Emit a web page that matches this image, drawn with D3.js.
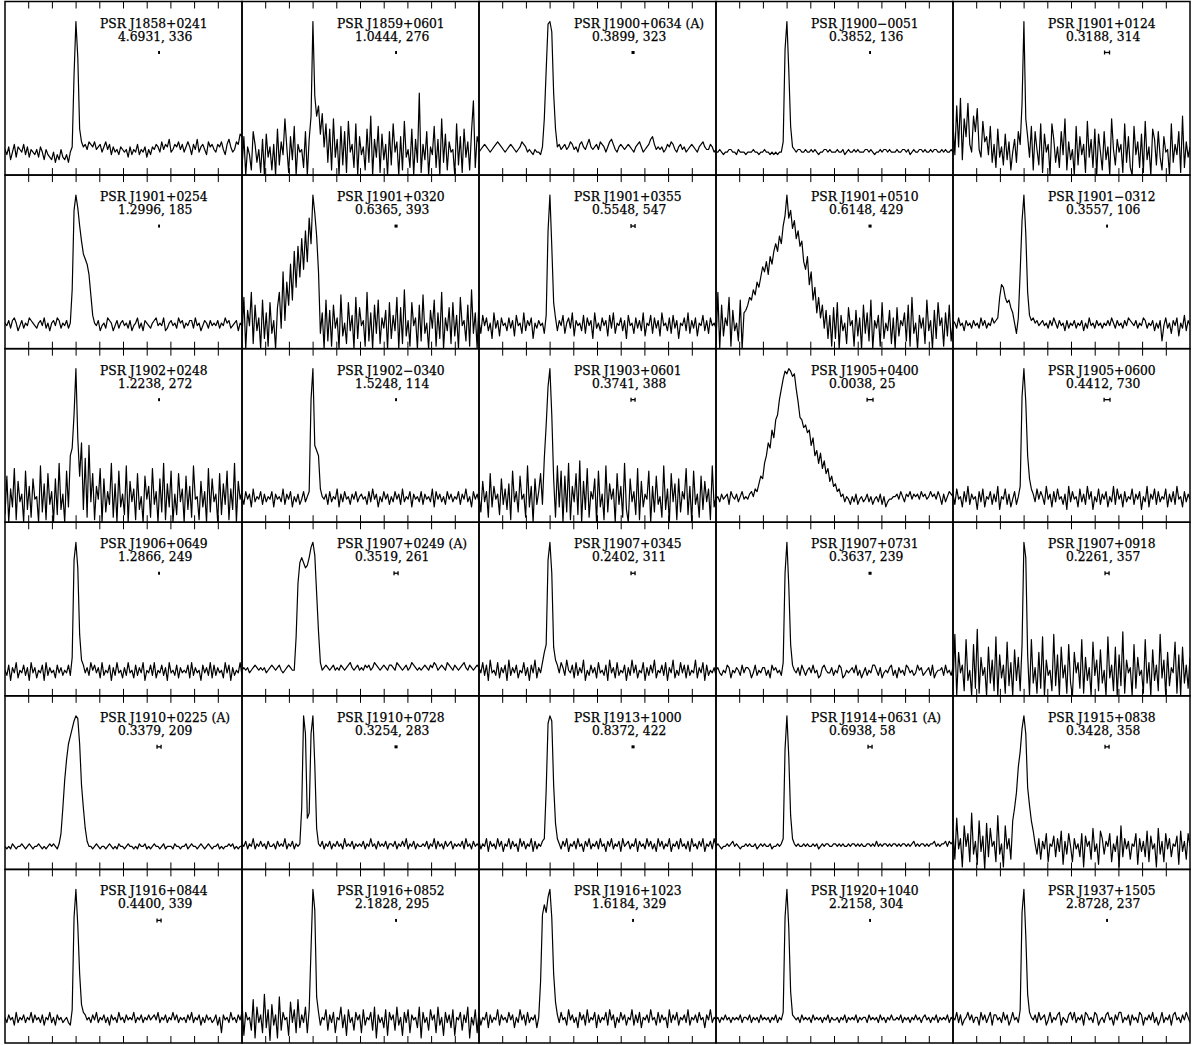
<!DOCTYPE html>
<html lang="en">
<head>
<meta charset="UTF-8">
<title>Pulse profiles</title>
<style>
  html, body { margin: 0; padding: 0; background: #fff; overflow: hidden; }
  svg { display: block; }
  .label { font-family: "DejaVu Serif", serif; font-size: 12.3px; fill: #000; stroke: #000; stroke-width: 0.25px; }
  .frame { fill: none; stroke: #000; stroke-width: 1.5px; }
  .tick { stroke: #000; stroke-width: 1px; }
  .profile { fill: none; stroke: #000; stroke-width: 1.2px; stroke-linejoin: round; }
  .res { stroke: #000; stroke-width: 1.3px; fill: #000; }
</style>
<script src="https://d3js.org/d3.v7.min.js"></script>
</head>
<body>
<svg width="1192" height="1045"></svg>
<script>
var names = [
  "PSR J1858+0241", "PSR J1859+0601", "PSR J1900+0634 (A)", "PSR J1900\u22120051", "PSR J1901+0124",
  "PSR J1901+0254", "PSR J1901+0320", "PSR J1901+0355", "PSR J1901+0510", "PSR J1901\u22120312",
  "PSR J1902+0248", "PSR J1902\u22120340", "PSR J1903+0601", "PSR J1905+0400", "PSR J1905+0600",
  "PSR J1906+0649", "PSR J1907+0249 (A)", "PSR J1907+0345", "PSR J1907+0731", "PSR J1907+0918",
  "PSR J1910+0225 (A)", "PSR J1910+0728", "PSR J1913+1000", "PSR J1914+0631 (A)", "PSR J1915+0838",
  "PSR J1916+0844", "PSR J1916+0852", "PSR J1916+1023", "PSR J1920+1040", "PSR J1937+1505"
];
var periods = [
  4.6931, 1.0444, 0.3899, 0.3852, 0.3188,
  1.2996, 0.6365, 0.5548, 0.6148, 0.3557,
  1.2238, 1.5248, 0.3741, 0.0038, 0.4412,
  1.2866, 0.3519, 0.2402, 0.3637, 0.2261,
  0.3379, 0.3254, 0.8372, 0.6938, 0.3428,
  0.4400, 2.1828, 1.6184, 2.2158, 2.8728
];
var dms = [
  336, 276, 323, 136, 314,
  185, 393, 547, 429, 106,
  272, 114, 388, 25, 730,
  249, 261, 311, 239, 357,
  209, 283, 422, 58, 358,
  339, 295, 329, 304, 237
];
// time resolution, in pulse phase
var resolution = [
  0.008, 0.008, 0.013, 0.008, 0.021,
  0.008, 0.013, 0.017, 0.013, 0.008,
  0.008, 0.008, 0.017, 0.025, 0.025,
  0.008, 0.017, 0.017, 0.013, 0.017,
  0.017, 0.013, 0.013, 0.017, 0.017,
  0.017, 0.008, 0.008, 0.008, 0.008
];
// one character per phase bin, level 0..61 (0-9, a-z, A-Z), peak = Y (60)
var profiles = [
  "a8b69c7ba9c8b7a9 8a7b96a8769586a7 6859bDYKidbcadcb dabc9bdac8b9a8ba 9a7b8a9c8a9b7a8b acb9dacbe9acbdac 9bdb8cae9bca8dbc a9cbda8ceb9adcgf",
  "3f0b82hc5a1e0g7b 2c0i4d8mb1f6j0c9 a3h0enYvnrgobk5i 2m7e0j4h1l9c3k0f 8b2i5n0e7j1g6c0h 4k9d0f2l7a3i0e5w 1c6h0b8j3e0m5g2d 9a0k4f1i7d2ht3fc",
  "9abcba9abcdcba9a bcba9abdcb9a98a9 98bmFXYUwibcabca bdcab9cdbacebabc adcb9bdeca9bcbab cba9bcdb9abcefca bab9acbdca9bcab9 abcba9bcdbaacb9a",
  "99a9899aa998a999 8999a99899a99898 9899dNYFjba9aa99 a99a9a9899aa9a99 9a99a89a99a9a999 aa9a9899a9aa9a99 9a99aa9a89a99aa9 a99a9aa99a9a99a9",
  "k8rbu6mfsc9nhqa7 ldf8j5c3i7b4g6d2 9e5hcsYmf7j2ha4k 1g9c0ke5b3h8m2d6 a0j4f8c1l7e3i0g9 2h6b0ma4e9c1k5f3 0j8d3g1l6b0ie4h7 2f9a0k5c8h1n3d7b",

  "a9b8bca79b8a9cba 98ab9c8a7ab9cb8a 9b8anSYTMGBzxtld a9b79a8cba79b8ab 9a8b79ac8a7ba98a bc9a9c78ab9a8cab 8a9bb8c9a79ba8b9 a9b8a9cab89ab7a9",
  "5k0f9m2h7c0j4e1i 6b0gm8ubqhxjCoEs HvKyPFYRIu6e0j3f 1h8c0l5a2i7d0k4g 9b1m3e0h6j2c8f0i 4d7k0g2n5b1i9c0h 3l6a0f8j1e4m0c7g 2i5d0k9b3h1n6e0j",
  "b6d9c7a4e8b5c9a7 c8b5d9a6e7b9c4a8 b9a6dKYEic7b9d6a c8e5b9a7d6c9b4e8 a7c9b5d8e6a9c7b4 d9a6c8b7e5a9d6c8 b5e9a7c6d8b4a9c7 e6b8c5a9d7b6c9a8",
  "2m0h5c9k1f7a3j0e fhkjnlqoswuytAxC FCIFMQYPSLOHKEGy vApujoekch8f4d1g 4i0d7a2g9b1f5c0h 6e3j0b8d1i4a7f2c 0g5b9e3h1k6a0d8c 2j7b0f4i9c1e5h3a",
  "ba8c9a7b9a8b9a8c 9b8a9cabckpokijg ea6cuOYJmdbcab9a b9a8b9ca8b9a7b8a 9b8a9b7a8c9a8b9a 8a9b9ca8b9a8b9cb a9b8a9cb8a9b7a8b 39c8a6b9c5a8d7b9",

  "3i0d6l1g8b0k5e2h 9a0m4f1j7c0h3n5b 0k6qtGYxiv5p2u8j 1e9l0h4c7n2f0k6b 3m0g8d1j5a0i9e2l 7c0h4n1f6k0b3j8d 0i5e2m9a1g6c0l4h 8b0j3f7k1d5n0g9c",
  "a7c9b6d8a9c7b8a9 c6b9a8d7b9c6a8b7 9c8acMYusqda9b7c 8a9d6b8c9a7b9c8a b9a7c8d9b6a8c9b7 a8c9b7d8a9c6b9a8 c7b9a8d6c9b8a7c9 b8a9c7b9d8a6c9b8",
  "a4g8c2j6e9b3h7d5 f1k8c4i9b2m6e0h7 cj7pCRYGh2m6k0i4 n1e8j3o0g5l2c9h0 k6b1m4f9d0j7e2n5 0h8c3l1g6b9k0e4i 7a2m5d0j8f1h4c9l 3e0k7b2i5g8d1m6a",
  "9a8b9ab7ca9b8ac9 a9bcadcfihnqvtAx EGMQUXWYXVWQLFEB CzAuxqsnrlojlgie fcdab8a97a8b79a8 9b8a79a8b7a6899a ab9ca8bac9bab9ca b9acab9ca7b8acba",
  "b7d9a6c8e7b9a5c8 d6a9c7b8e5a9d7b6 9c7aeNYLqhdb8d9c a7e9b6c8d9a7b5e8 c9a6d8b7e9c5a8d7 b9c6a8e7d9b6c8a9 d7b9c5a8e6b9d7c8 a9d6b8c7e9a6c8b9",

  "a8c6b9d7a9c8b6d9 b7a9c6d8b9a7c9b8 a9c8fRYOoec9b8da c9b7d8a9c6b8d9a7 b8d9a7c8b9d6a9c8 d7a9c8b6d9a8c7b9 a9c7d8b9a6c9b8d7 c8b9a7d9c6b8a9d8",
  "abab9abcbabab9ab cbabca9abcbaanIQ SQOPSWYTEpdabcba bcabacbabcdbabca bacbcabdcbabcbac cbadcbabcabdcbab abcbacbdcabcbadc bacbabcdbacbabcb",
  "b9d8c6e9a8d7b9c6 e8b9c7a9d8b6c9e7 b9dhkRYMjec9db8e a9c7d8b9e6a8c9b7 d9a8c6e9b7d8a9c6 b8e9c7a9d6b8c9e7 a9c8d6b9e7a8d9c7 c8a9e7b9d6c8a9b8",
  "ab98a9cb7a9ba8c9 bba79c8a9bb8a7ca b9a8dMYHkca9b8ca 8ab9c9a78bca99b8 a9cb78a9ab9c8a79 b8a9cca8b79a9bc8 a7b9a8cb9a89cab8 9ab8c79aab8c9a8b",
  "4o0h9c2m6a0k3q1f 8b0j5e2n0g7c1l4d 0i6f2kYSg0m5b1h3 n0e8a2o4g0j7c1k5 0h9d3m1f6b0l8e2i 5a0n7c2j0g4p1e9b 0k3f8a1m5d0i6c2o 7e0h4b9l1g0j5c3f",

  "9898a9899a989a98 99a98989a9a98aeo zHNQTWYXNxogb998 9a989989a9898a99 89a99898a99a8989 a9989a89998a9989 9a89a9989a989a98 99a89899a9a89899",
  "a9b8a9c8a9b9a8b9 9a8b9a9c8a9b8a9a oYRkmRYFga9b8a9b 8a9b9a8c9a9b8a9a 9b8a9c9a8b9a9b8a a9b8a9b9c8a9b8a9 9a9b8a9c8b9a8b9a b8a9a9b8c9a8b9a9",
  "b8a9c7b9a8c9b7a9 c8b9a7c9b8a9c7b8 a9bcvVYWxica8b9c 7a9b8c9a7b9c8a9b 8c9a7b9c8a9b7c9a b8a9c7b9a8c9b8a7 c9b8a9c7a9b8c9a8 b7c9a8b9c7a9b8c9",
  "9a9899a9ab9a9899 a9a99a89a9a99a89 9a9acLYIlca9a99a 9a99a9a89a9aa99a a9a9a99a9aa9a9a9 9aa9a9b9a9aa9a9a a9a9aa9a9ab9a9aa 9a9aab9a9aab9bab",
  "f4k8c1h9e3m6b2j7 d0i5g9b3l6a1h8c4 jouEKTYRwpjfa6c4 b8e3a9d5c7f2b6e9 3c8a5e1d9b4g7a2f c6b9e3a7d1h5c8b4 a9e2c7b5f3d8a1g6 b3e8c5a9d2f7b4e9",

  "a8b9a7c8a9b8a9c8 b9a8b7a9c8a7b9a8 9a87dNYKrfcb9a8b 9c8a9b8a7b9a8c9a 8b9a9c8a9b8a9b9a b9c8a9b8a9c9b8a9 a8b9c8a9b7a8b9a8 9b7a4b9a8c9a8b9c",
  "g3c9a5h2e8b4j6d1 f7b2i5c9a3g8d4h6 b8e4dBYQic7a9d5b 8c4a9e6b3d8a5c9b 4d7a9c5e2b8a6d3c 9b5e7a3c8d4b9a6e 2c8a5d9b4e7a3c8b 6d3a9c5b8e2a7d4c",
  "b7a9c6b8a9d7b9a8 c9b6a8d9b7c8a9b6 aoOSPVYNrgb8c9a7 d9b8a6c9b7d8a9c6 b8a9c7d9b6a8c9b7 a9d7b8c6a9b8d9a7 c8b9a6d8b9c7a9b8 d7a9b8c9a6b9d8a9",
  "9a8a9b9a8a9a9b8a a9b8a9a8b9a9a8a9 b8a9cNYJkba9a8b9 a9a8b9a9a8a9b8a9 9a8a9b8a9a9b8a9a a8b9a9a8b9a8a9b9 9a9b8a9a8a9b9a8a b9a8a9b8a9a9b8a9",
  "a9c8b79ac9b8aa7c 9b8ac7bb9a8c9b79 c9a8dPYGjca9b8c9 ab79c8a9bc7a98bc 9c8a9b7cb9a8cb79 a8bc9a7b9cc8a9b7 b9a8cb7a9b9c8a79 c8a9b7bc9a8b9ca8"
];
var levelChars = "0123456789abcdefghijklmnopqrstuvwxyzABCDEFGHIJKLMNOPQRSTUVWXYZ";
var tickPhases = [0.1, 0.2, 0.3, 0.4, 0.5, 0.6, 0.7, 0.8, 0.9];

var svg = d3.select("svg");
var ncol = 5,
    gridLeft = 5, gridTop = 1.5,
    pw = 237, ph = (1043 - gridTop) / 6;
var peakLevel = 60;
var fmtP = d3.format(".4f");

var x = d3.scaleLinear().domain([0, 1]).range([0, pw]);
var y = d3.scaleLinear().domain([0, peakLevel]).range([ph, 20]);

var defs = svg.append("defs");
defs.append("clipPath").attr("id", "panel-clip")
    .append("rect").attr("x", 0).attr("y", 0).attr("width", pw).attr("height", ph);

var panels = svg.selectAll("g.panel")
    .data(names.map((n, i) => ({
        name: n,
        period: periods[i],
        dm: dms[i],
        res: resolution[i],
        values: profiles[i].replace(/ /g, "").split("").map(c => levelChars.indexOf(c))
    })))
    .enter().append("g")
    .attr("class", "panel")
    .attr("transform", (d, i) => "translate(" + (gridLeft + (i % ncol) * pw) + "," + (gridTop + Math.floor(i / ncol) * ph) + ")");

// profile traces
panels.append("path")
    .attr("class", "profile")
    .attr("clip-path", "url(#panel-clip)")
    .attr("d", d => {
        var n = d.values.length;
        return d3.line()
            .x((v, j) => x(j / (n - 1)))
            .y(v => y(v))(d.values);
    });

// frames
panels.append("rect")
    .attr("class", "frame")
    .attr("width", pw)
    .attr("height", ph);

// ticks, top and bottom, pointing inward
panels.each(function() {
    var g = d3.select(this);
    g.selectAll("line.ttop").data(tickPhases).enter().append("line")
        .attr("class", "tick ttop")
        .attr("x1", p => x(p)).attr("x2", p => x(p))
        .attr("y1", 0).attr("y2", 7);
    g.selectAll("line.tbot").data(tickPhases).enter().append("line")
        .attr("class", "tick tbot")
        .attr("x1", p => x(p)).attr("x2", p => x(p))
        .attr("y1", ph).attr("y2", ph - 7);
});

// labels
panels.append("text")
    .attr("class", "label")
    .attr("x", 95)
    .attr("y", 26)
    .text(d => d.name);

panels.append("text")
    .attr("class", "label")
    .attr("x", 113)
    .attr("y", 39)
    .text(d => fmtP(d.period) + ", " + d.dm);

// time resolution marker
panels.each(function(d) {
    var g = d3.select(this);
    var cx = x(0.65), cy = 51;
    var w = x(d.res) - x(0);
    if (w <= 3.5) {
        g.append("rect").attr("class", "res")
            .attr("x", cx - w / 2).attr("y", cy - 1.5)
            .attr("width", w).attr("height", 3)
            .style("stroke", "none");
    } else {
        g.append("line").attr("class", "res")
            .attr("x1", cx - w / 2).attr("x2", cx + w / 2)
            .attr("y1", cy).attr("y2", cy);
        [cx - w / 2, cx + w / 2].forEach(function(ex) {
            g.append("line").attr("class", "res")
                .attr("x1", ex).attr("x2", ex)
                .attr("y1", cy - 2).attr("y2", cy + 2);
        });
    }
});
</script>
</body>
</html>
